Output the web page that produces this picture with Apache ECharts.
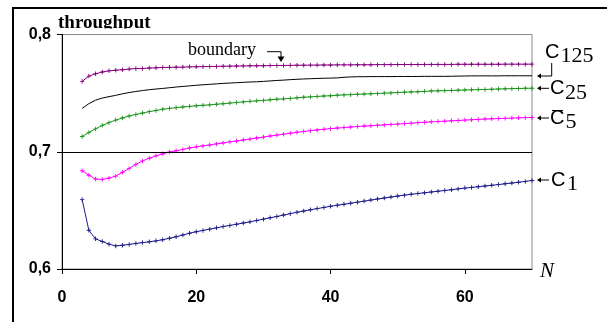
<!DOCTYPE html>
<html><head><meta charset="utf-8">
<script src="https://cdn.jsdelivr.net/npm/echarts@6/dist/echarts.min.js"></script>
<style>html,body{margin:0;padding:0;background:#fff}#c{width:607px;height:322px}</style>
</head><body><div id="c"></div>
<script>
const N = [3,4,5,6,7,8,9,10,11,12,13,14,15,16,17,18,19,20,
  21,22,23,24,25,26,27,28,29,30,31,32,33,34,35,36,37,38,39,40,
  41,42,43,44,45,46,47,48,49,50,51,52,53,54,55,56,57,58,59,60,
  61,62,63,64,65,66,67,68,69,70];
const boundary = [0.7600,0.7645,0.7665,0.7680,0.7690,0.7695,0.7700,0.7705,0.7710,0.7710,0.7714,0.7716,0.7719,0.7720,0.7721,0.7722,0.7724,0.7725,
  0.7726,0.7727,0.7728,0.7729,0.7730,0.7731,0.7732,0.7733,0.7733,0.7734,
  0.7735,0.7736,0.7736,0.7737,0.7738,0.7738,0.7739,0.7739,0.7740,0.7740,
  0.7741,0.7741,0.7741,0.7742,0.7742,0.7742,0.7743,0.7743,0.7743,0.7744,
  0.7744,0.7744,0.7744,0.7745,0.7745,0.7745,0.7745,0.7745,0.7746,0.7746,
  0.7746,0.7746,0.7746,0.7746,0.7746,0.7747,0.7747,0.7747,0.7747,0.7747];
const c125 = [0.7370,0.7410,0.7440,0.7458,0.7470,0.7481,0.7494,0.7505,0.7514,0.7522,0.7529,0.7535,0.7540,0.7546,0.7552,0.7557,0.7562,0.7567,
  0.7571,0.7575,0.7579,0.7583,0.7586,0.7589,0.7592,0.7595,0.7597,0.7600,
  0.7604,0.7608,0.7611,0.7615,0.7618,0.7621,0.7623,0.7625,0.7627,0.7628,
  0.7630,0.7635,0.7638,0.7640,0.7640,0.7641,0.7641,0.7641,0.7641,0.7642,
  0.7642,0.7642,0.7642,0.7643,0.7643,0.7643,0.7643,0.7644,0.7645,0.7646,
  0.7647,0.7647,0.7647,0.7647,0.7647,0.7648,0.7648,0.7648,0.7648,0.7648];
const c25 = [0.7130,0.7165,0.7195,0.7225,0.7248,0.7270,0.7288,0.7305,0.7318,0.7330,0.7342,0.7352,0.7362,0.7370,0.7376,0.7382,0.7387,0.7392,
  0.7396,0.7400,0.7405,0.7410,0.7415,0.7420,0.7425,0.7430,0.7434,0.7438,
  0.7443,0.7448,0.7451,0.7455,0.7460,0.7465,0.7468,0.7472,0.7475,0.7478,
  0.7482,0.7485,0.7487,0.7490,0.7492,0.7495,0.7497,0.7500,0.7502,0.7505,
  0.7508,0.7510,0.7512,0.7515,0.7518,0.7520,0.7521,0.7523,0.7525,0.7527,
  0.7528,0.7530,0.7531,0.7533,0.7535,0.7537,0.7538,0.7540,0.7541,0.7542];
const c5bar = [0.6838,0.6800,0.6768,0.6764,0.6775,0.6792,0.6825,0.6858,0.6892,0.6922,0.6945,0.6965,0.6982,0.6998,0.7008,0.7020,0.7032,0.7042,
  0.7050,0.7058,0.7067,0.7075,0.7084,0.7092,0.7100,0.7108,0.7117,0.7125,
  0.7134,0.7142,0.7150,0.7158,0.7166,0.7173,0.7180,0.7186,0.7192,0.7197,
  0.7202,0.7206,0.7211,0.7215,0.7219,0.7222,0.7226,0.7229,0.7233,0.7236,
  0.7240,0.7244,0.7248,0.7251,0.7255,0.7258,0.7261,0.7264,0.7267,0.7270,
  0.7273,0.7276,0.7279,0.7281,0.7283,0.7285,0.7287,0.7289,0.7291,0.7292];
const c1 = [0.6592,0.6330,0.6257,0.6235,0.6212,0.6197,0.6202,0.6210,0.6218,0.6225,0.6232,0.6240,0.6250,0.6262,0.6275,0.6290,0.6305,0.6318,
  0.6329,0.6340,0.6351,0.6362,0.6372,0.6382,0.6392,0.6402,0.6414,0.6425,
  0.6437,0.6448,0.6460,0.6472,0.6484,0.6495,0.6505,0.6515,0.6525,0.6535,
  0.6544,0.6552,0.6561,0.6570,0.6579,0.6588,0.6597,0.6605,0.6614,0.6622,
  0.6630,0.6637,0.6644,0.6650,0.6657,0.6663,0.6670,0.6676,0.6683,0.6690,
  0.6696,0.6702,0.6708,0.6714,0.6720,0.6727,0.6733,0.6740,0.6747,0.6755];
const xTicks = [0,20,40,60];
const yTicks = [0.6,0.7,0.8];
const refLine = 0.7;

const zip = a => N.map((n,i)=>[n,a[i]]);
const plus = 'path://M-0.6,-3H0.6V-0.6H3V0.6H0.6V3H-0.6V0.6H-3V-0.6H-0.6Z';
function ser(name, data, color, marker){
  return {name, type:'line', data: zip(data), showSymbol: marker, symbol: plus, symbolSize: marker?4.5:0,
    itemStyle:{color}, lineStyle:{color, width:1}, emphasis:{disabled:true}, silent:true, z:3};
}
const serif = '"Liberation Serif","Times New Roman",serif';
const sans = '"Liberation Sans",Arial,sans-serif';
function txt(text,x,y,font,extra){ return Object.assign({type:'text', x, y, z:10, style:{text, font, fill:'#000', align:'left', verticalAlign:'middle'}}, extra||{}); }
function ln(x1,y1,x2,y2,w){ return {type:'line', z:10, shape:{x1,y1,x2,y2}, style:{stroke:'#000', lineWidth:w||1}}; }
function larrow(x,y){ return [ln(x+2,y,x+12,y), {type:'polygon', z:10, shape:{points:[[x,y],[x+4,y-2.5],[x+4,y+2.5]]}, style:{fill:'#000'}}]; }

const chart = echarts.init(document.getElementById('c'), null, {renderer:'canvas'});
const s1 = ser('C1', c1, '#1c1c8a', true);
s1.markLine = {silent:true, symbol:'none', label:{show:false}, lineStyle:{color:'#000', width:1, type:'solid'}, data:[{yAxis: refLine}]};
chart.setOption({
  animation:false,
  grid:{left:62, right:75, top:34.5, bottom:53, show:true, borderColor:'#8a8a8a', borderWidth:1, backgroundColor:'transparent'},
  xAxis:{type:'value', min:0, max:70, interval:10,
    axisLine:{show:true, onZero:false, lineStyle:{color:'#000', width:1}},
    axisTick:{show:true, length:5, customValues:xTicks, lineStyle:{color:'#000'}},
    axisLabel:{customValues:xTicks, margin:21, fontFamily:sans, fontWeight:'bold', fontSize:16, color:'#000'},
    splitLine:{show:false}},
  yAxis:{type:'value', min:0.6, max:0.8, interval:0.1,
    axisLine:{show:true, onZero:false, lineStyle:{color:'#000', width:1}},
    axisTick:{show:true, length:5, customValues:yTicks, lineStyle:{color:'#000'}},
    axisLabel:{customValues:yTicks, margin:11, fontFamily:sans, fontWeight:'bold', fontSize:16, color:'#000',
      formatter:v=>v.toFixed(1).replace('.',',')},
    splitLine:{show:false}},
  series:[
    ser('boundary', boundary, '#85007f', true),
    ser('C125', c125, '#000000', false),
    ser('C25', c25, '#1f951f', true),
    ser('C5bar', c5bar, '#ff00ff', true),
    s1
  ],
  graphic:[
    ln(13,322,13,8,2), ln(12,8,607,8,2),
    txt('throughput',58,23,'bold 19px '+serif),
    {type:'rect', z:11, shape:{x:55,y:28.6,width:100,height:5}, style:{fill:'#fff'}},
    txt('boundary',188,50.5,'18px '+serif),
    ln(267,51.7,281,51.7), ln(281,51.7,281,57),
    {type:'polygon', z:10, shape:{points:[[277.5,56.5],[284.5,56.5],[281,62]]}, style:{fill:'#000'}},
    // C125
    txt('C',545,52,'20px '+sans), txt('125',560.5,56,'22px '+serif),
    ln(551.7,63,551.7,76), ln(539,76,551.7,76),
    {type:'polygon', z:10, shape:{points:[[537,76],[541,73.5],[541,78.5]]}, style:{fill:'#000'}},
    // C25
    ...larrow(537,88.3), txt('C',550,88,'20px '+sans), txt('25',565,93.5,'22px '+serif),
    // C5 bar
    ...larrow(537,118), txt('C',550,118.5,'20px '+sans), txt('5',565.5,122,'22px '+serif),
    ln(552,110.5,563,110.5),
    // C1
    ...larrow(537,180), txt('C',551,180.5,'20px '+sans), txt('1',567,184.5,'22px '+serif),
    txt('N',540,271,'italic 21px '+serif)
  ]
});
</script></body></html>
